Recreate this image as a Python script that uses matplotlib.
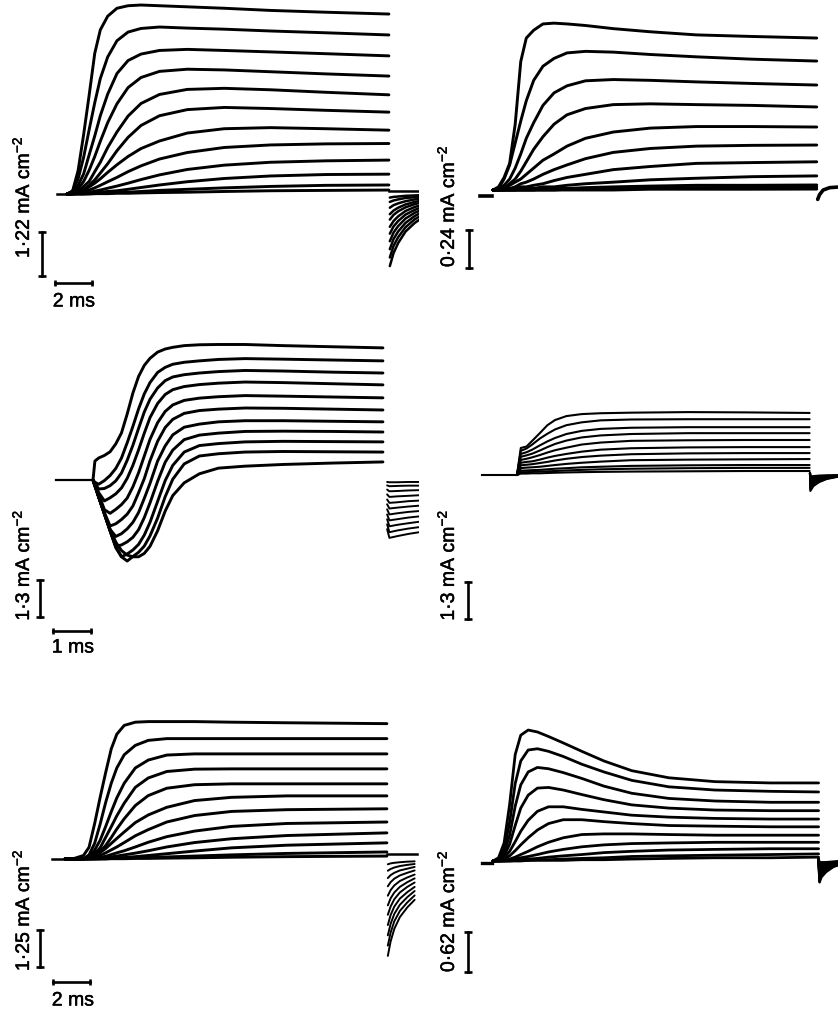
import matplotlib.pyplot as plt
import matplotlib.patheffects as pe

plt.rcParams['font.family'] = ['Liberation Sans', 'DejaVu Sans']
plt.rcParams['mathtext.fontset'] = 'custom'
plt.rcParams['mathtext.rm'] = 'Liberation Sans'
plt.rcParams['mathtext.it'] = 'Liberation Sans:italic'
plt.rcParams['mathtext.bf'] = 'Liberation Sans:bold'

# membrane current (mA cm-2) against time from pulse onset (ms)

# top left, scale 1.22 mA cm-2 / 2 ms
T_A = [0, 0.3, 0.6, 0.9, 1.2, 1.5, 1.8, 2.2, 2.7, 3.3, 4, 5, 6.5, 8.5, 11, 14, 17.4]
I_A = [
    [0, 0.08, 0.65, 1.65, 2.75, 3.9, 4.55, 4.93, 5.15, 5.22, 5.24, 5.22, 5.19, 5.15, 5.09, 5.04, 4.99],
    [0, 0.08, 0.42, 1.02, 1.79, 2.53, 3.2, 3.8, 4.25, 4.49, 4.59, 4.63, 4.6, 4.57, 4.52, 4.47, 4.41],
    [0, 0.05, 0.24, 0.56, 1.09, 1.61, 2.17, 2.77, 3.34, 3.7, 3.88, 3.98, 4.01, 3.98, 3.94, 3.89, 3.83],
    [0, 0.03, 0.14, 0.35, 0.66, 1.04, 1.46, 1.98, 2.5, 2.95, 3.23, 3.4, 3.46, 3.44, 3.39, 3.33, 3.27],
    [0, 0.02, 0.06, 0.21, 0.35, 0.62, 0.88, 1.29, 1.72, 2.16, 2.51, 2.76, 2.9, 2.93, 2.89, 2.82, 2.75],
    [0, 0.01, 0.04, 0.12, 0.24, 0.39, 0.58, 0.84, 1.2, 1.57, 1.9, 2.17, 2.34, 2.4, 2.37, 2.32, 2.27],
    [0, 0.01, 0.04, 0.1, 0.2, 0.3, 0.42, 0.6, 0.81, 1.04, 1.26, 1.47, 1.69, 1.81, 1.84, 1.81, 1.77],
    [0, 0.01, 0.03, 0.06, 0.11, 0.17, 0.24, 0.34, 0.46, 0.62, 0.78, 0.97, 1.15, 1.29, 1.36, 1.39, 1.4],
    [0, 0, 0.02, 0.03, 0.04, 0.08, 0.11, 0.16, 0.22, 0.3, 0.4, 0.53, 0.68, 0.8, 0.88, 0.92, 0.94],
    [0, 0, 0.01, 0.01, 0.02, 0.03, 0.05, 0.07, 0.09, 0.13, 0.18, 0.25, 0.34, 0.43, 0.5, 0.54, 0.55],
    [0, 0, 0, 0, 0.01, 0.01, 0.02, 0.03, 0.04, 0.05, 0.07, 0.1, 0.13, 0.17, 0.21, 0.24, 0.25],
    [0, 0, 0, 0, 0, 0.01, 0.01, 0.01, 0.02, 0.02, 0.03, 0.04, 0.05, 0.07, 0.09, 0.1, 0.11],
]
TAIL_T_A = [17.45, 17.65, 17.9, 18.3, 18.8, 19.2]
TAIL_A = [
    [-2.0, -1.64, -1.36, -1.04, -0.8, -0.66],
    [-1.76, -1.44, -1.2, -0.92, -0.7, -0.58],
    [-1.53, -1.25, -1.04, -0.8, -0.61, -0.5],
    [-1.31, -1.07, -0.89, -0.68, -0.52, -0.43],
    [-1.1, -0.9, -0.75, -0.57, -0.44, -0.36],
    [-0.91, -0.75, -0.62, -0.47, -0.36, -0.3],
    [-0.71, -0.58, -0.48, -0.37, -0.28, -0.23],
    [-0.56, -0.46, -0.38, -0.29, -0.22, -0.18],
    [-0.38, -0.31, -0.26, -0.2, -0.15, -0.13],
    [-0.22, -0.18, -0.15, -0.11, -0.09, -0.07],
    [-0.1, -0.08, -0.07, -0.05, -0.04, -0.03],
]

# top right, scale 0.24 mA cm-2
T_B = [0, 0.3, 0.6, 0.9, 1.2, 1.5, 1.8, 2.2, 2.7, 3.3, 4, 5, 6.5, 8.5, 11, 14, 17.5]
I_B = [
    [0, 0.02, 0.08, 0.17, 0.42, 0.82, 0.97, 1.02, 1.06, 1.065, 1.06, 1.05, 1.03, 1.01, 0.99, 0.98, 0.97],
    [0, 0.01, 0.07, 0.16, 0.3, 0.44, 0.57, 0.7, 0.79, 0.84, 0.875, 0.885, 0.88, 0.865, 0.85, 0.835, 0.823],
    [0, 0.01, 0.03, 0.07, 0.14, 0.23, 0.33, 0.43, 0.54, 0.62, 0.665, 0.697, 0.705, 0.7, 0.69, 0.68, 0.67],
    [0, 0, 0.01, 0.04, 0.07, 0.12, 0.18, 0.26, 0.34, 0.42, 0.48, 0.52, 0.545, 0.55, 0.545, 0.54, 0.53],
    [0, 0, 0.01, 0.03, 0.05, 0.07, 0.1, 0.14, 0.19, 0.23, 0.28, 0.33, 0.37, 0.395, 0.405, 0.405, 0.402],
    [0, 0, 0.01, 0.01, 0.02, 0.04, 0.05, 0.07, 0.1, 0.13, 0.16, 0.2, 0.24, 0.265, 0.28, 0.285, 0.287],
    [0, 0, 0, 0.01, 0.01, 0.02, 0.02, 0.03, 0.04, 0.06, 0.08, 0.1, 0.13, 0.15, 0.17, 0.175, 0.18],
    [0, 0, 0, 0, 0, 0.01, 0.01, 0.01, 0.02, 0.02, 0.03, 0.04, 0.05, 0.065, 0.075, 0.085, 0.09],
    [0, 0, 0, 0, 0, 0, 0, 0, 0.01, 0.01, 0.01, 0.015, 0.02, 0.025, 0.03, 0.03, 0.032],
    [0, 0, 0, 0, 0, 0, 0, 0, 0, 0, 0.005, 0.01, 0.01, 0.015, 0.015, 0.018, 0.019],
    [0, 0, 0, 0, 0, 0, 0, 0, 0, 0, 0, 0, 0, 0.005, 0.005, 0.005, 0.006],
]
TAIL_T_B = [17.55, 17.65, 17.85, 18.2, 18.8]
TAIL_B = [[-0.06, -0.03, 0.0, 0.015, 0.02]]

# middle left, scale 1.3 mA cm-2 / 1 ms
T_C = [0, 0.05, 0.15, 0.3, 0.45, 0.6, 0.75, 0.9, 1.05, 1.2, 1.35, 1.5, 1.7, 1.9, 2.1, 2.4, 2.8, 3.3, 4, 5, 6.3, 7.63]
I_C = [
    [0, 0.67, 0.78, 0.87, 1.0, 1.28, 1.67, 2.34, 3.08, 3.67, 4.06, 4.31, 4.53, 4.64, 4.7, 4.76, 4.79, 4.8, 4.8, 4.76, 4.72, 4.68],
    [0, -0.08, -0.15, -0.02, 0.16, 0.41, 0.78, 1.32, 1.9, 2.52, 3.05, 3.45, 3.81, 3.99, 4.1, 4.17, 4.22, 4.27, 4.3, 4.28, 4.25, 4.22],
    [0, -0.11, -0.32, -0.3, -0.2, -0.03, 0.25, 0.7, 1.23, 1.83, 2.41, 2.86, 3.26, 3.52, 3.65, 3.73, 3.79, 3.84, 3.88, 3.86, 3.82, 3.79],
    [0, -0.15, -0.45, -0.74, -0.63, -0.49, -0.28, 0.06, 0.52, 1.07, 1.66, 2.21, 2.71, 3.03, 3.2, 3.31, 3.38, 3.43, 3.47, 3.45, 3.41, 3.37],
    [0, -0.18, -0.5, -1.05, -1.18, -1.04, -0.87, -0.64, -0.24, 0.26, 0.85, 1.44, 2.03, 2.43, 2.66, 2.82, 2.9, 2.95, 2.99, 2.97, 2.94, 2.91],
    [0, -0.2, -0.6, -1.15, -1.63, -1.55, -1.4, -1.21, -0.92, -0.45, 0.05, 0.68, 1.37, 1.86, 2.15, 2.36, 2.46, 2.51, 2.55, 2.54, 2.51, 2.48],
    [0, -0.2, -0.6, -1.2, -1.75, -2.0, -1.9, -1.73, -1.5, -1.15, -0.65, -0.12, 0.67, 1.21, 1.6, 1.87, 1.98, 2.06, 2.1, 2.1, 2.08, 2.06],
    [0, -0.2, -0.6, -1.2, -1.8, -2.35, -2.3, -2.19, -2.03, -1.76, -1.33, -0.81, -0.05, 0.63, 1.06, 1.43, 1.59, 1.66, 1.72, 1.73, 1.72, 1.7],
    [0, -0.2, -0.6, -1.2, -1.8, -2.4, -2.72, -2.62, -2.48, -2.28, -1.95, -1.5, -0.76, -0.02, 0.52, 0.99, 1.22, 1.29, 1.35, 1.37, 1.36, 1.35],
    [0, -0.2, -0.6, -1.2, -1.8, -2.35, -2.72, -2.87, -2.71, -2.56, -2.34, -1.98, -1.35, -0.59, 0.03, 0.57, 0.85, 0.93, 0.99, 1.01, 1.0, 0.99],
    [0, -0.2, -0.6, -1.2, -1.75, -2.2, -2.5, -2.66, -2.72, -2.72, -2.6, -2.35, -1.8, -1.1, -0.55, -0.1, 0.22, 0.42, 0.49, 0.55, 0.6, 0.64],
]
TAIL_T_C = [7.74, 7.8, 8.0, 8.3, 8.58]
TAIL_C = [
    [-1.74, -2.05, -1.99, -1.91, -1.85],
    [-1.57, -1.85, -1.79, -1.72, -1.67],
    [-1.39, -1.64, -1.59, -1.53, -1.48],
    [-1.22, -1.43, -1.39, -1.33, -1.29],
    [-1.04, -1.22, -1.18, -1.13, -1.1],
    [-0.86, -1.01, -0.98, -0.94, -0.91],
    [-0.69, -0.81, -0.79, -0.75, -0.73],
    [-0.51, -0.6, -0.58, -0.56, -0.54],
    [-0.34, -0.4, -0.39, -0.37, -0.36],
    [-0.19, -0.22, -0.21, -0.2, -0.2],
    [-0.07, -0.08, -0.08, -0.07, -0.07],
]

# middle right, scale 1.3 mA cm-2
T_D = [0, 0.1, 0.25, 0.4, 0.6, 0.8, 1.0, 1.3, 1.7, 2.2, 3, 4.5, 6, 7.7]
I_D = [
    [0, 0.95, 1.0, 1.2, 1.47, 1.75, 1.93, 2.07, 2.14, 2.17, 2.19, 2.21, 2.2, 2.18],
    [0, 0.85, 0.93, 1.07, 1.28, 1.45, 1.6, 1.75, 1.85, 1.92, 1.95, 1.96, 1.96, 1.96],
    [0, 0.74, 0.8, 0.89, 1.04, 1.18, 1.3, 1.44, 1.55, 1.62, 1.66, 1.68, 1.68, 1.68],
    [0, 0.64, 0.69, 0.75, 0.86, 0.98, 1.09, 1.21, 1.32, 1.39, 1.44, 1.47, 1.47, 1.47],
    [0, 0.53, 0.57, 0.62, 0.7, 0.79, 0.87, 0.96, 1.07, 1.14, 1.2, 1.22, 1.23, 1.23],
    [0, 0.43, 0.46, 0.48, 0.54, 0.61, 0.67, 0.74, 0.82, 0.89, 0.94, 0.97, 0.98, 0.98],
    [0, 0.34, 0.36, 0.38, 0.42, 0.46, 0.51, 0.57, 0.63, 0.68, 0.73, 0.76, 0.77, 0.77],
    [0, 0.24, 0.26, 0.27, 0.29, 0.32, 0.35, 0.39, 0.43, 0.47, 0.52, 0.54, 0.55, 0.56],
    [0, 0.15, 0.16, 0.17, 0.18, 0.2, 0.22, 0.24, 0.27, 0.29, 0.32, 0.34, 0.35, 0.35],
    [0, 0.1, 0.1, 0.11, 0.12, 0.13, 0.14, 0.16, 0.18, 0.2, 0.22, 0.24, 0.25, 0.25],
    [0, 0.05, 0.05, 0.06, 0.06, 0.07, 0.08, 0.09, 0.1, 0.11, 0.12, 0.13, 0.14, 0.14],
]
TAIL_T_D = [7.71, 7.72, 7.8, 7.95, 8.15, 8.45]
TAIL_D = [
    [0.07, -0.56, -0.39, -0.25, -0.14, -0.06],
    [0.07, -0.5, -0.35, -0.23, -0.13, -0.05],
    [0.07, -0.45, -0.32, -0.2, -0.11, -0.05],
    [0.07, -0.4, -0.28, -0.18, -0.1, -0.04],
    [0.07, -0.35, -0.25, -0.16, -0.09, -0.04],
    [0.07, -0.3, -0.21, -0.14, -0.08, -0.03],
    [0.07, -0.25, -0.18, -0.11, -0.06, -0.03],
    [0.07, -0.2, -0.14, -0.09, -0.05, -0.02],
    [0.07, -0.15, -0.11, -0.07, -0.04, -0.02],
    [0.07, -0.1, -0.07, -0.05, -0.03, -0.01],
    [0.07, -0.05, -0.04, -0.02, -0.01, -0.01],
]

# bottom left, scale 1.25 mA cm-2 / 2 ms
T_E = [0, 0.5, 1.0, 1.3, 1.6, 1.9, 2.2, 2.5, 2.8, 3.2, 3.8, 4.5, 5.5, 7, 9, 12, 17.4]
I_E = [
    [0, 0.02, 0.12, 0.4, 1.2, 2.1, 2.95, 3.75, 4.25, 4.55, 4.66, 4.68, 4.68, 4.68, 4.66, 4.64, 4.61],
    [0, 0, 0.01, 0.14, 0.53, 1.19, 1.93, 2.58, 3.1, 3.55, 3.87, 4.04, 4.1, 4.1, 4.1, 4.1, 4.1],
    [0, 0, 0, 0.07, 0.3, 0.64, 1.11, 1.61, 2.08, 2.58, 3.1, 3.37, 3.54, 3.58, 3.58, 3.58, 3.58],
    [0, 0, 0, 0.05, 0.18, 0.38, 0.74, 1.1, 1.47, 1.9, 2.44, 2.76, 2.98, 3.06, 3.07, 3.07, 3.07],
    [0, 0, 0, 0.04, 0.12, 0.26, 0.46, 0.73, 1.02, 1.37, 1.82, 2.16, 2.41, 2.53, 2.56, 2.56, 2.56],
    [0, 0, 0.01, 0.04, 0.1, 0.22, 0.36, 0.53, 0.7, 0.92, 1.24, 1.5, 1.76, 1.99, 2.1, 2.15, 2.15],
    [0, 0, 0.01, 0.03, 0.06, 0.12, 0.21, 0.31, 0.41, 0.56, 0.79, 1.0, 1.26, 1.48, 1.62, 1.68, 1.71],
    [0, 0, 0.01, 0.02, 0.04, 0.06, 0.09, 0.15, 0.21, 0.28, 0.41, 0.57, 0.76, 0.95, 1.11, 1.21, 1.26],
    [0, 0, 0, 0.01, 0.02, 0.03, 0.04, 0.07, 0.1, 0.14, 0.2, 0.28, 0.41, 0.56, 0.69, 0.8, 0.89],
    [0, 0, 0, 0, 0, 0.01, 0.02, 0.03, 0.04, 0.05, 0.08, 0.12, 0.18, 0.27, 0.38, 0.47, 0.55],
    [0, 0, 0, 0, 0.01, 0.01, 0.01, 0.02, 0.02, 0.03, 0.04, 0.05, 0.07, 0.1, 0.14, 0.19, 0.24],
    [0, 0, 0, 0, 0, 0, 0, 0.01, 0.01, 0.01, 0.02, 0.02, 0.03, 0.04, 0.06, 0.08, 0.1],
]
TAIL_T_E = [17.45, 17.6, 17.8, 18.1, 18.5, 18.9]
TAIL_E = [
    [-3.3, -2.81, -2.38, -1.98, -1.65, -1.39],
    [-2.95, -2.51, -2.12, -1.77, -1.48, -1.24],
    [-2.6, -2.21, -1.87, -1.56, -1.3, -1.09],
    [-2.25, -1.91, -1.62, -1.35, -1.13, -0.95],
    [-1.9, -1.62, -1.37, -1.14, -0.95, -0.8],
    [-1.58, -1.34, -1.14, -0.95, -0.79, -0.66],
    [-1.25, -1.06, -0.9, -0.75, -0.63, -0.53],
    [-0.93, -0.79, -0.67, -0.56, -0.47, -0.39],
    [-0.65, -0.55, -0.47, -0.39, -0.33, -0.27],
    [-0.4, -0.34, -0.29, -0.24, -0.2, -0.17],
    [-0.18, -0.15, -0.13, -0.11, -0.09, -0.08],
]

# bottom right, scale 0.62 mA cm-2
T_F = [0, 0.3, 0.6, 0.9, 1.2, 1.5, 1.9, 2.4, 3, 3.8, 4.8, 6, 7.5, 9.5, 12, 15, 17.6]
I_F = [
    [0, 0.05, 0.28, 0.88, 1.65, 1.95, 2.03, 2.0, 1.93, 1.83, 1.7, 1.55, 1.4, 1.29, 1.23, 1.21, 1.21],
    [0, 0.03, 0.18, 0.6, 1.2, 1.55, 1.72, 1.74, 1.7, 1.62, 1.5, 1.38, 1.25, 1.15, 1.1, 1.08, 1.07],
    [0, 0.02, 0.12, 0.4, 0.85, 1.18, 1.38, 1.45, 1.43, 1.37, 1.28, 1.16, 1.05, 0.97, 0.93, 0.91, 0.91],
    [0, 0.02, 0.08, 0.26, 0.55, 0.82, 1.02, 1.13, 1.14, 1.1, 1.03, 0.95, 0.87, 0.82, 0.79, 0.78, 0.78],
    [0, 0.01, 0.05, 0.15, 0.3, 0.46, 0.63, 0.77, 0.84, 0.84, 0.8, 0.76, 0.71, 0.68, 0.66, 0.65, 0.65],
    [0, 0.01, 0.03, 0.08, 0.16, 0.25, 0.36, 0.48, 0.58, 0.64, 0.64, 0.61, 0.58, 0.55, 0.54, 0.53, 0.53],
    [0, 0, 0.01, 0.03, 0.06, 0.1, 0.15, 0.22, 0.29, 0.36, 0.41, 0.42, 0.42, 0.41, 0.4, 0.4, 0.4],
    [0, 0, 0.01, 0.02, 0.03, 0.05, 0.07, 0.1, 0.14, 0.18, 0.22, 0.25, 0.27, 0.28, 0.29, 0.29, 0.29],
    [0, 0, 0, 0.01, 0.01, 0.02, 0.03, 0.04, 0.06, 0.08, 0.1, 0.13, 0.15, 0.17, 0.18, 0.19, 0.19],
    [0, 0, 0, 0, 0.01, 0.01, 0.01, 0.02, 0.02, 0.03, 0.04, 0.05, 0.07, 0.08, 0.09, 0.1, 0.11],
    [0, 0, 0, 0, 0, 0, 0.01, 0.01, 0.01, 0.01, 0.02, 0.02, 0.03, 0.04, 0.05, 0.05, 0.06],
]
TAIL_T_F = [17.6, 17.65, 17.75, 18.0, 18.4, 18.9]
TAIL_F = [
    [0.03, -0.33, -0.25, -0.17, -0.09, -0.04],
    [0.03, -0.3, -0.23, -0.15, -0.08, -0.04],
    [0.03, -0.27, -0.2, -0.14, -0.07, -0.03],
    [0.03, -0.24, -0.18, -0.12, -0.06, -0.03],
    [0.03, -0.21, -0.16, -0.11, -0.06, -0.03],
    [0.03, -0.18, -0.14, -0.09, -0.05, -0.02],
    [0.03, -0.15, -0.11, -0.08, -0.04, -0.02],
    [0.03, -0.12, -0.09, -0.06, -0.03, -0.01],
    [0.03, -0.09, -0.07, -0.05, -0.02, -0.01],
    [0.03, -0.06, -0.05, -0.03, -0.02, -0.01],
    [0.03, -0.03, -0.02, -0.02, -0.01, 0.0],
]

# holding current before the pulse: (start ms, end ms, level)
PRE = {'A': (-0.54, 0, 0), 'B': (-0.7, -0.05, -0.04), 'C': (-0.97, 0, 0),
       'D': (-0.92, 0, 0), 'E': (-0.7, 0, 0), 'F': (-0.6, -0.05, -0.03)}
SCALE_I = {'A': 1.22, 'B': 0.24, 'C': 1.3, 'D': 1.3, 'E': 1.25, 'F': 0.62}
SCALE_T = {'A': 2, 'C': 1, 'E': 2}

W, H = 838, 1012
fig = plt.figure(figsize=(W / 100, H / 100), dpi=100)


def add_panel(box, x0, y0, sx, sy):
    # box in pixels (left, top, right, bottom); x0/y0 = pixel of t=0, I=0
    l, t, r, b = box
    ax = fig.add_axes([l / W, 1 - b / H, (r - l) / W, (b - t) / H])
    ax.set_xlim((l - x0) / sx, (r - x0) / sx)
    ax.set_ylim((y0 - b) / sy, (y0 - t) / sy)
    ax.axis('off')
    return ax, (x0, y0, sx, sy)


def draw(ax, t, rows, lw):
    for row in rows:
        ax.plot(t, row, color='black', lw=lw, solid_joinstyle='round', solid_capstyle='round')


def bars(ax, cal, key, vx, vy, hx=None, hy=None):
    x0, y0, sx, sy = cal
    tv = (vx - x0) / sx
    iv = (y0 - vy) / sy
    ax.plot([tv, tv], [iv, iv + SCALE_I[key]], color='black', lw=1.9,
            marker='_', ms=6, mew=1.9, clip_on=False)
    if hx is not None:
        th = (hx - x0) / sx
        ih = (y0 - hy) / sy
        ax.plot([th, th + SCALE_T[key]], [ih, ih], color='black', lw=1.9,
                marker='|', ms=5, mew=1.9, clip_on=False)


def pre(ax, key, lw):
    a, b, v = PRE[key]
    ax.plot([a, b], [v, v], color='black', lw=lw)


# A
ax, cal = add_panel((0, 0, 419, 320), 67, 195, 18.5, 44 / 1.22)
draw(ax, T_A, I_A, 2.1)
draw(ax, TAIL_T_A, TAIL_A, 1.8)
ax.plot([17.4, 19.3], [0.08, 0.08], color='black', lw=1.8)
pre(ax, 'A', 1.8)
bars(ax, cal, 'A', 42, 277, 55, 284)

# B
ax, cal = add_panel((420, 0, 838, 320), 493, 191, 18.5, 37.6 / 0.24)
draw(ax, T_B, I_B, 2.1)
draw(ax, TAIL_T_B, TAIL_B, 2.6)
pre(ax, 'B', 2.6)
bars(ax, cal, 'B', 469, 269)

# C
ax, cal = add_panel((0, 320, 419, 670), 93, 481, 38, 36.7 / 1.3)
draw(ax, T_C, I_C, 2.1)
draw(ax, TAIL_T_C, TAIL_C, 1.4)
pre(ax, 'C', 1.6)
bars(ax, cal, 'C', 40, 618, 53, 632)

# D
ax, cal = add_panel((420, 320, 838, 670), 517, 476, 38, 37 / 1.3)
draw(ax, T_D, I_D, 1.5)
draw(ax, TAIL_T_D, TAIL_D, 1.5)
pre(ax, 'D', 1.5)
bars(ax, cal, 'D', 468, 620)

# E
ax, cal = add_panel((0, 670, 419, 1012), 65, 860, 18.5, 36.7 / 1.25)
draw(ax, T_E, I_E, 2.1)
draw(ax, TAIL_T_E, TAIL_E, 1.4)
ax.plot([17.4, 19.0], [0.17, 0.17], color='black', lw=1.8)
pre(ax, 'E', 1.8)
bars(ax, cal, 'E', 40, 968, 53, 983)

# F
ax, cal = add_panel((420, 670, 838, 1012), 493, 862, 18.5, 40 / 0.62)
draw(ax, T_F, I_F, 2.0)
draw(ax, TAIL_T_F, TAIL_F, 1.8)
pre(ax, 'F', 2.4)
bars(ax, cal, 'F', 468, 973)

# scale labels
fs = 14
thick = [pe.withStroke(linewidth=0.35, foreground='black')]
lab = dict(rotation=90, ha='center', va='center', fontsize=fs, path_effects=thick)
fig.text(22 / W, 1 - 198 / H, '1·22 mA cm$^{-2}$', **lab)
fig.text(447 / W, 1 - 207 / H, '0·24 mA cm$^{-2}$', **lab)
fig.text(22 / W, 1 - 566 / H, '1·3 mA cm$^{-2}$', **lab)
fig.text(447 / W, 1 - 566 / H, '1·3 mA cm$^{-2}$', **lab)
fig.text(22 / W, 1 - 911 / H, '1·25 mA cm$^{-2}$', **lab)
fig.text(447 / W, 1 - 912 / H, '0·62 mA cm$^{-2}$', **lab)
ms = dict(ha='center', va='center', fontsize=fs, path_effects=thick)
fig.text(74 / W, 1 - 303 / H, '2 ms', **ms)
fig.text(73 / W, 1 - 649 / H, '1 ms', **ms)
fig.text(73 / W, 1 - 1002 / H, '2 ms', **ms)

fig.savefig('out.png', dpi=100, facecolor='white')
